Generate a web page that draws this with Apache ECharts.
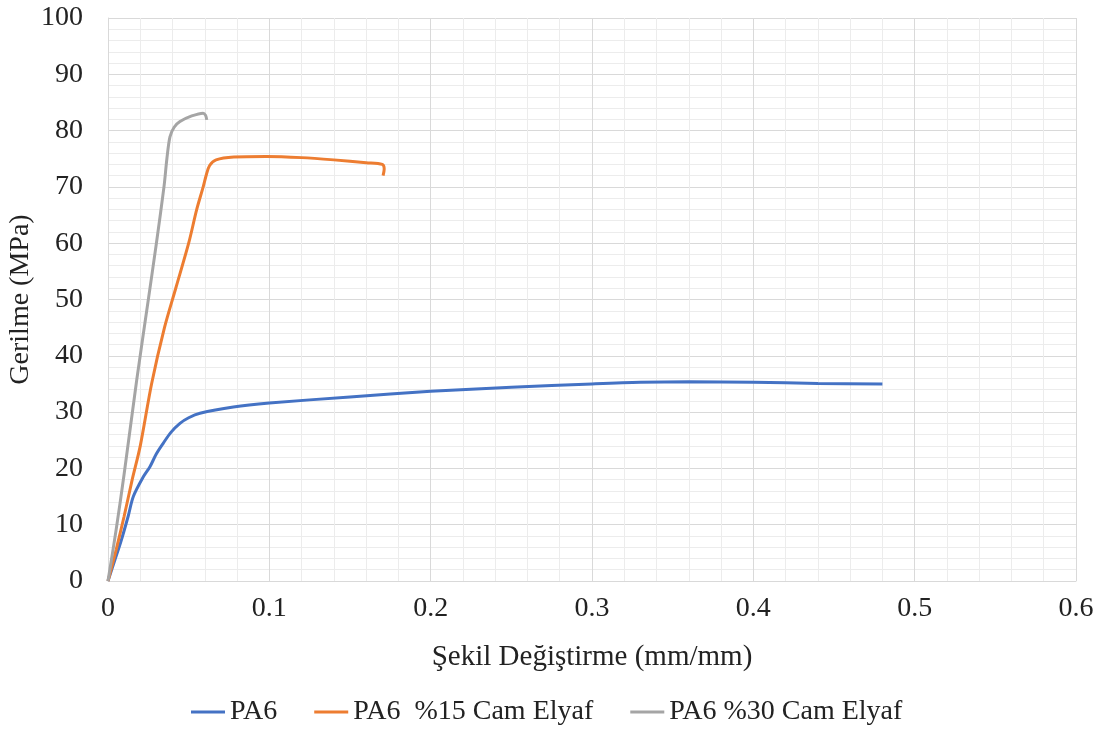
<!DOCTYPE html>
<html>
<head>
<meta charset="utf-8">
<script src="https://cdn.jsdelivr.net/npm/echarts@6/dist/echarts.min.js"></script>
<style>html,body{margin:0;padding:0;background:#fff}#c{width:1110px;height:733px}</style>
</head>
<body>
<div id="c"></div>
<script>
const seriesNames = ['PA6', 'PA6  %15 Cam Elyaf', 'PA6 %30 Cam Elyaf'];
const pa6 = [[0,0],[0.004,3.5],[0.008,7],[0.0125,11.5],[0.0157,15],[0.0219,18.5],[0.026,20.3],[0.03,22.6],[0.0343,24.5],[0.039,26.4],[0.0446,28.0],[0.05,29.0],[0.057,29.8],[0.0777,30.9],[0.1,31.6],[0.15,32.7],[0.2,33.7],[0.25,34.4],[0.3,35.0],[0.33,35.3],[0.36,35.4],[0.4,35.3],[0.44,35.1],[0.48,35.0]];
const pa6cf15 = [[0,0],[0.005,5.5],[0.01,11.5],[0.015,18],[0.02,24],[0.027,35],[0.035,45],[0.042,52],[0.05,60],[0.055,66],[0.059,70],[0.061,72.2],[0.063,73.8],[0.067,74.8],[0.078,75.3],[0.098,75.4],[0.12,75.2],[0.14,74.8],[0.16,74.3],[0.17,74.0],[0.1712,73.2],[0.1705,72]];
const pa6cf30 = [[0,0],[0.005,9],[0.01,19],[0.0178,35.7],[0.025,50],[0.03,60],[0.0347,70],[0.0365,75],[0.0384,78.9],[0.041,80.6],[0.0446,81.6],[0.0519,82.6],[0.0589,83.1],[0.0605,82.7],[0.0612,81.9]];
const xTicks = [0, 0.1, 0.2, 0.3, 0.4, 0.5, 0.6];
const yTicks = [0, 10, 20, 30, 40, 50, 60, 70, 80, 90, 100];
const colors = ['#4472c4', '#ed7d31', '#a5a5a5'];

const font = '"Liberation Serif", "DejaVu Serif", serif';
const chart = echarts.init(document.getElementById('c'), null, {renderer: 'canvas'});
const mk = (name, data, color) => ({
  name, type: 'line', data, smooth: 0.3, showSymbol: false, symbol: 'none',
  lineStyle: {width: 3, color}, itemStyle: {color}, animation: false
});
chart.setOption({
  animation: false,
  textStyle: {fontFamily: font},
  grid: {left: 108, right: 34, top: 18, bottom: 152, containLabel: false, outerBoundsMode: 'none'},
  xAxis: {
    type: 'value', min: xTicks[0], max: xTicks[xTicks.length - 1], interval: 0.1,
    name: 'Şekil Değiştirme (mm/mm)', nameLocation: 'middle', nameGap: 62,
    nameTextStyle: {fontFamily: font, fontSize: 29, color: '#222'},
    axisLine: {show: true, lineStyle: {color: '#d9d9d9', width: 1}},
    axisTick: {show: false},
    axisLabel: {fontFamily: font, fontSize: 28, color: '#222', margin: 14, formatter: v => String(v)},
    splitLine: {show: true, lineStyle: {color: '#d9d9d9', width: 1}},
    minorTick: {show: false, splitNumber: 5},
    minorSplitLine: {show: true, lineStyle: {color: '#ececec', width: 1}}
  },
  yAxis: {
    type: 'value', min: yTicks[0], max: yTicks[yTicks.length - 1], interval: 10,
    name: 'Gerilme (MPa)', nameLocation: 'middle', nameGap: 73, nameRotate: 90, nameMoveOverlap: false,
    nameTextStyle: {fontFamily: font, fontSize: 28, color: '#222'},
    axisLine: {show: true, lineStyle: {color: '#d9d9d9', width: 1}},
    axisTick: {show: false},
    axisLabel: {fontFamily: font, fontSize: 28, color: '#222', margin: 25},
    splitLine: {show: true, lineStyle: {color: '#d9d9d9', width: 1}},
    minorTick: {show: false, splitNumber: 5},
    minorSplitLine: {show: true, lineStyle: {color: '#ececec', width: 1}}
  },
  legend: {
    top: 693, left: 186, itemGap: 37, itemWidth: 34, itemHeight: 3, icon: 'rect',
    textStyle: {fontFamily: font, fontSize: 28, color: '#222'},
    data: seriesNames
  },
  series: [mk(seriesNames[0], pa6, colors[0]), mk(seriesNames[1], pa6cf15, colors[1]), mk(seriesNames[2], pa6cf30, colors[2])]
});
</script>
</body>
</html>
